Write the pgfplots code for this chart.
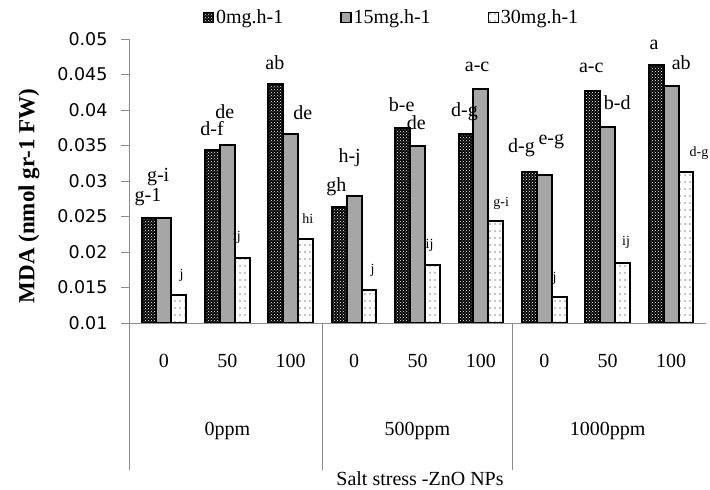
\documentclass[border=0pt]{standalone}
\usepackage{fontspec}
\setmainfont{Liberation Serif}
\newfontfamily\sansf{DejaVu Sans}
\usepackage{pgfplots}
\pgfplotsset{compat=1.18}
\usetikzlibrary{patterns}
\pgfdeclarepatternformonly{sparsedots}{\pgfqpoint{-1pt}{-1pt}}{\pgfqpoint{1pt}{1pt}}{\pgfqpoint{5pt}{7pt}}{\pgfpathcircle{\pgfqpoint{0pt}{0pt}}{0.6pt}\pgfusepath{fill}}
\newcommand{\fs}{\fontsize{20}{20}\selectfont}
\newcommand{\fss}{\fontsize{14}{14}\selectfont}
\pgfplotsset{mylegend/.style={legend image code/.code={\draw[##1, line width=1.2pt] (0pt,-5pt) rectangle (10pt,5pt);}}}
\begin{document}
\begin{tikzpicture}[x=1pt,y=1pt]
\begin{axis}[
  at={(129pt,167pt)}, anchor=south west,
  scale only axis, width=577pt, height=284pt,
  xmin=-0.55, xmax=8.55, ymin=0.01, ymax=0.05,
  axis x line*=bottom, axis y line*=left,
  axis line style={draw=black!45, line width=0.8pt},
  xtick=\empty,
  scaled y ticks=false,
  ytick={0.01,0.015,0.02,0.025,0.03,0.035,0.04,0.045,0.05},
  yticklabels={0.01,0.015,0.02,0.025,0.03,0.035,0.04,0.045,0.05},
  yticklabel style={font=\sansf\fontsize{17.5}{17.5}\selectfont, xshift=-10pt},
  tick align=outside, major tick length=8pt,
  every tick/.style={draw=black!45, line width=0.8pt},
  ybar, bar width=0.235,
  clip mode=individual,
  legend columns=3,
  legend style={at={(0.455,1.077)}, anchor=center, draw=none, fill=none, font=\fs,
    inner sep=0pt, /tikz/every even column/.append style={column sep=55pt}},
]
\addplot[ybar, bar shift=-0.235, draw=black, line width=2pt, fill=black,
  postaction={pattern=crosshatch dots, pattern color=white}, mylegend]
  coordinates {(0,0.0248) (1,0.0343) (2,0.0437) (3,0.0263) (4,0.0375) (5,0.0366) (6,0.0313) (7,0.0427) (8,0.0463)};
\addplot[ybar, bar shift=0, draw=black, line width=2pt, fill=black!35, mylegend]
  coordinates {(0,0.0248) (1,0.0351) (2,0.0366) (3,0.0279) (4,0.0350) (5,0.0430) (6,0.0308) (7,0.0376) (8,0.0434)};
\addplot[ybar, bar shift=0.235, draw=black, line width=2pt, fill=white,
  postaction={pattern=sparsedots, pattern color=black}, mylegend]
  coordinates {(0,0.0139) (1,0.0192) (2,0.0219) (3,0.0147) (4,0.0182) (5,0.0243) (6,0.0137) (7,0.0184) (8,0.0313)};
\legend{0mg.h-1,15mg.h-1,30mg.h-1}
% significance letters
\node[font=\fs] at (axis cs:-0.25,0.02775) {g-1};
\node[font=\fs] at (axis cs:-0.09,0.03056) {g-i};
\node[font=\fss] at (axis cs:0.28,0.01676) {j};
\node[font=\fs] at (axis cs:0.76,0.03732) {d-f};
\node[font=\fs] at (axis cs:0.96,0.03972) {de};
\node[font=\fss] at (axis cs:1.15,0.02211) {ij};
\node[font=\fs] at (axis cs:1.75,0.04662) {ab};
\node[font=\fs] at (axis cs:2.19,0.03958) {de};
\node[font=\fss] at (axis cs:2.27,0.02465) {hi};
\node[font=\fs] at (axis cs:2.72,0.02915) {gh};
\node[font=\fs] at (axis cs:2.93,0.03324) {h-j};
\node[font=\fss] at (axis cs:3.29,0.01746) {j};
\node[font=\fs] at (axis cs:3.75,0.0407) {b-e};
\node[font=\fs] at (axis cs:3.98,0.03817) {de};
\node[font=\fss] at (axis cs:4.19,0.02099) {ij};
\node[font=\fs] at (axis cs:4.74,0.03972) {d-g};
\node[font=\fs] at (axis cs:4.94,0.04606) {a-c};
\node[font=\fss] at (axis cs:5.32,0.0269) {g-i};
\node[font=\fs] at (axis cs:5.64,0.03465) {d-g};
\node[font=\fs] at (axis cs:6.11,0.0355) {e-g};
\node[font=\fss] at (axis cs:6.16,0.01634) {j};
\node[font=\fs] at (axis cs:6.74,0.04592) {a-c};
\node[font=\fs] at (axis cs:7.15,0.04099) {b-d};
\node[font=\fss] at (axis cs:7.29,0.02141) {ij};
\node[font=\fs] at (axis cs:7.73,0.04915) {a};
\node[font=\fs] at (axis cs:8.16,0.04662) {ab};
\node[font=\fss] at (axis cs:8.44,0.03394) {d-g};
% category separators
\draw[black!45, line width=0.8pt] (axis cs:-0.55,0.01) -- ([yshift=-147pt]axis cs:-0.55,0.01);
\draw[black!45, line width=0.8pt] (axis cs:2.5,0.01) -- ([yshift=-147pt]axis cs:2.5,0.01);
\draw[black!45, line width=0.8pt] (axis cs:5.5,0.01) -- ([yshift=-147pt]axis cs:5.5,0.01);
% category labels
\node[font=\fs, anchor=base] at (axis cs:0,0.01) [yshift=-45pt] {0};
\node[font=\fs, anchor=base] at (axis cs:1,0.01) [yshift=-45pt] {50};
\node[font=\fs, anchor=base] at (axis cs:2,0.01) [yshift=-45pt] {100};
\node[font=\fs, anchor=base] at (axis cs:3,0.01) [yshift=-45pt] {0};
\node[font=\fs, anchor=base] at (axis cs:4,0.01) [yshift=-45pt] {50};
\node[font=\fs, anchor=base] at (axis cs:5,0.01) [yshift=-45pt] {100};
\node[font=\fs, anchor=base] at (axis cs:6,0.01) [yshift=-45pt] {0};
\node[font=\fs, anchor=base] at (axis cs:7,0.01) [yshift=-45pt] {50};
\node[font=\fs, anchor=base] at (axis cs:8,0.01) [yshift=-45pt] {100};
\node[font=\fs, anchor=base] at (axis cs:1,0.01) [yshift=-112pt] {0ppm};
\node[font=\fs, anchor=base] at (axis cs:4,0.01) [yshift=-112pt] {500ppm};
\node[font=\fs, anchor=base] at (axis cs:7,0.01) [yshift=-112pt] {1000ppm};
\end{axis}
\node[font=\bfseries\fontsize{23}{23}\selectfont, rotate=90] at (29,294) {MDA (nmol gr-1 FW)};
\node[font=\fs, anchor=base] at (420,4) {Salt stress -ZnO NPs};
\pgfresetboundingbox
\useasboundingbox (0,0) rectangle (710,490);
\end{tikzpicture}
\end{document}
